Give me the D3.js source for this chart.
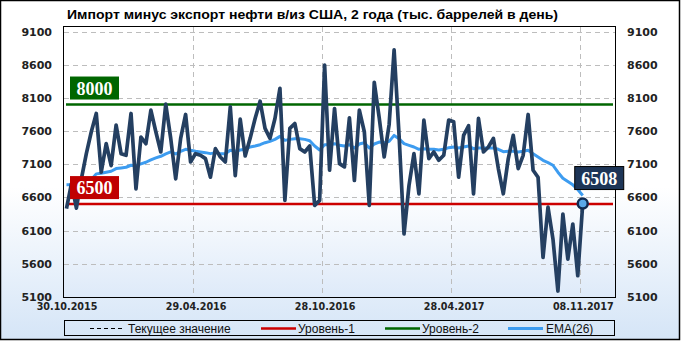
<!DOCTYPE html>
<html>
<head>
<meta charset="utf-8">
<script src="https://cdn.jsdelivr.net/npm/d3@7"></script>
<style>
  body { margin: 0; background: #fff; }
</style>
</head>
<body>
<svg width="682" height="341"></svg>
<script>
// weekly values, thousand barrels per day
const values = [
  6430, 6810, 6440, 6880, 7260, 7590, 7865, 6980, 7410, 7080,
  7690, 7260, 7235, 7865, 6730, 7510, 7410, 7915, 7590, 7285,
  8005, 7490, 6880, 7490, 7850, 7135, 7260, 7235, 7185, 6905,
  7335, 7210, 7135, 7965, 6930, 7780, 7225, 7490, 7790, 8050,
  7640, 7490, 7790, 8245, 6555, 7640, 7715, 7335, 7285, 7375,
  6480, 6555, 8595, 7010, 7940, 7110, 7060, 7800, 6855, 7915,
  7590, 6480, 8335, 7800, 7210, 7700, 8825, 7535, 6050, 6780,
  7260, 6655, 7765, 7185, 7285, 7160, 7235, 7765, 7740, 6905,
  7535, 7680, 6655, 7790, 7285, 7360, 7490, 7035, 6655, 7185,
  7535, 7035, 7235, 7850, 7010, 6905, 5695, 6455, 5975, 5190,
  6350, 5670, 6200, 5420, 6508
];
const ema = [
  6790, 6790, 6780, 6790, 6820, 6870, 6955, 6965, 6980, 6995,
  7035, 7045, 7055, 7085, 7080, 7105, 7130, 7165, 7195, 7220,
  7255, 7285, 7255, 7295, 7325, 7310, 7295, 7285, 7275, 7260,
  7275, 7260, 7260, 7310, 7295, 7315, 7325, 7360, 7375, 7395,
  7425, 7445, 7475, 7520, 7460, 7475, 7485, 7485, 7475, 7455,
  7375, 7315, 7395, 7395, 7410, 7385, 7375, 7395, 7345, 7405,
  7425, 7345, 7405, 7435, 7425, 7445, 7535, 7485, 7410, 7385,
  7360, 7325, 7335, 7325, 7325, 7315, 7325, 7350, 7360, 7345,
  7360, 7375, 7335, 7345, 7345, 7345, 7345, 7325, 7290, 7295,
  7295, 7285, 7295, 7310, 7260, 7210, 7160, 7125, 7085, 6980,
  6890, 6840, 6790, 6720, 6630
];
const level1 = 6500;
const level2 = 8000;
const yTicks = [5100, 5600, 6100, 6600, 7100, 7600, 8100, 8600, 9100];
const xTickIdx = [0, 26, 52, 78, 104];
const xTickLabels = ['30.10.2015', '29.04.2016', '28.10.2016', '28.04.2017', '08.11.2017'];
const title = 'Импорт  минус экспорт нефти  в/из США, 2 года (тыс. баррелей в день)';
const legendItems = ['Текущее значение', 'Уровень-1', 'Уровень-2', 'EMA(26)'];

const svg = d3.select('svg');
const margin = {top: 27, right: 67, bottom: 44, left: 64};
const width = +svg.attr('width');
const height = +svg.attr('height');
const innerWidth = width - margin.left - margin.right;
const innerHeight = height - margin.top - margin.bottom;

// gradients
const defs = svg.append('defs');
const grad = defs.append('linearGradient').attr('id', 'bg')
  .attr('x1', 0).attr('y1', 0).attr('x2', 0).attr('y2', 1);
grad.append('stop').attr('offset', '0.55').attr('stop-color', '#ffffff');
grad.append('stop').attr('offset', '1').attr('stop-color', '#d5e5f7');
const grad2 = defs.append('linearGradient').attr('id', 'plotbg')
  .attr('x1', 0).attr('y1', 0).attr('x2', 0).attr('y2', 1);
grad2.append('stop').attr('offset', '0.6').attr('stop-color', '#ffffff');
grad2.append('stop').attr('offset', '1').attr('stop-color', '#deeaf9');

svg.append('rect')
  .attr('x', 0.5).attr('y', 0.5).attr('width', 679).attr('height', 339)
  .attr('fill', 'url(#bg)').attr('stroke', '#000').attr('stroke-width', 1.5);

// title
svg.append('text')
  .attr('x', 67).attr('y', 19)
  .style('font-family', '"Liberation Sans", sans-serif')
  .style('font-weight', 'bold').style('font-size', '13px')
  .attr('textLength', 491).attr('lengthAdjust', 'spacingAndGlyphs')
  .text(title);

const g = svg.append('g')
  .attr('transform', `translate(${margin.left}, ${margin.top})`);

const xScale = d3.scaleLinear().domain([0, 111]).range([0, innerWidth]);
const yScale = d3.scaleLinear().domain([5100, 9168]).range([innerHeight, 0]);

g.append('rect')
  .attr('width', innerWidth).attr('height', innerHeight)
  .attr('fill', 'url(#plotbg)');

// grid
g.selectAll('.hgrid').data(yTicks.slice(1)).enter().append('line')
  .attr('x1', 0).attr('x2', innerWidth)
  .attr('y1', d => Math.round(yScale(d)) + 0.5).attr('y2', d => Math.round(yScale(d)) + 0.5)
  .attr('stroke', '#bdbdbd').attr('stroke-dasharray', '5,4');
g.selectAll('.vgrid').data(xTickIdx.slice(1)).enter().append('line')
  .attr('y1', 0).attr('y2', innerHeight)
  .attr('x1', d => Math.round(xScale(d)) + 0.5).attr('x2', d => Math.round(xScale(d)) + 0.5)
  .attr('stroke', '#bdbdbd').attr('stroke-dasharray', '5,4');

// axes
const fmt = d3.format('d');
const yLeft = g.append('g')
  .call(d3.axisLeft(yScale).tickValues(yTicks).tickFormat(fmt).tickSize(0).tickPadding(12));
const yRight = g.append('g').attr('transform', `translate(${innerWidth}, 0)`)
  .call(d3.axisRight(yScale).tickValues(yTicks).tickFormat(fmt).tickSize(0).tickPadding(12));
const xAxis = g.append('g').attr('transform', `translate(0, ${innerHeight})`)
  .call(d3.axisBottom(xScale).tickValues(xTickIdx).tickSize(0).tickPadding(6)
    .tickFormat((d, i) => xTickLabels[i]));
[yLeft, yRight, xAxis].forEach(a => {
  a.select('.domain').remove();
  a.selectAll('text').attr('fill', '#222')
    .style('font-weight', 'bold')
    .style('font-family', '"DejaVu Sans", sans-serif');
});
yLeft.selectAll('text').style('font-size', '11px');
yRight.selectAll('text').style('font-size', '11px');
xAxis.selectAll('text').style('font-size', '9.6px').attr('dx', 2.5);

// level lines
const levels = [
  {v: level2, color: '#006600', fill: '#006600'},
  {v: level1, color: '#cc0000', fill: '#c00000'}
];
levels.forEach(l => {
  g.append('line')
    .attr('x1', 2).attr('x2', innerWidth - 2)
    .attr('y1', yScale(l.v)).attr('y2', yScale(l.v))
    .attr('stroke', l.color).attr('stroke-width', 2.5);
});

// EMA
const line = d3.line().x((d, i) => xScale(i + 0.5)).y(d => yScale(d));
g.append('path').datum(ema)
  .attr('fill', 'none').attr('stroke', '#3d9cf0').attr('stroke-width', 3)
  .attr('stroke-linejoin', 'round').attr('d', line);

// values
g.append('path').datum(values)
  .attr('fill', 'none').attr('stroke', '#243f61').attr('stroke-width', 3.7)
  .attr('stroke-linejoin', 'round').attr('d', line);

// frame
g.append('rect')
  .attr('x', -0.5).attr('y', -0.5).attr('width', innerWidth + 1).attr('height', innerHeight + 1)
  .attr('fill', 'none').attr('stroke', '#000');

// level labels
const serif = '"Liberation Serif", "DejaVu Serif", serif';
levels.forEach(l => {
  const y = yScale(l.v);
  g.append('rect')
    .attr('x', 6).attr('y', y - 28).attr('width', 49).attr('height', 23)
    .attr('fill', l.fill);
  g.append('text')
    .attr('x', 30.5).attr('y', y - 10)
    .attr('text-anchor', 'middle')
    .style('font-family', serif).style('font-weight', 'bold')
    .style('font-size', '18px').attr('fill', '#fff')
    .text(l.v);
});

// last value marker
const last = values.length - 1;
const lx = xScale(last + 0.5), ly = yScale(values[last]);
g.append('circle').attr('cx', lx).attr('cy', ly).attr('r', 5)
  .attr('fill', '#5aa8e8').attr('stroke', '#102a50').attr('stroke-width', 2.5);
g.append('rect')
  .attr('x', lx - 8).attr('y', ly - 37).attr('width', 49).attr('height', 23)
  .attr('fill', '#1d3557').attr('stroke', '#000').attr('stroke-width', 1);
g.append('text')
  .attr('x', lx + 16.5).attr('y', ly - 19)
  .attr('text-anchor', 'middle')
  .style('font-family', serif).style('font-weight', 'bold')
  .style('font-size', '18px').attr('fill', '#fff')
  .text(values[last]);

// legend
const lg = svg.append('g');
lg.append('rect')
  .attr('x', 64.5).attr('y', 320.5).attr('width', 550).attr('height', 15)
  .attr('fill', 'none').attr('stroke', '#000');
const legendStyles = [
  {x: 90, color: '#000', dash: '4,3', w: 1, gap: 38},
  {x: 261, color: '#cc0000', dash: null, w: 2.5, gap: 37},
  {x: 385, color: '#006600', dash: null, w: 2.5, gap: 37},
  {x: 508, color: '#3d9cf0', dash: null, w: 3, gap: 38}
];
legendItems.forEach((name, i) => {
  const s = legendStyles[i];
  lg.append('line')
    .attr('x1', s.x).attr('x2', s.x + 35)
    .attr('y1', 328.5).attr('y2', 328.5)
    .attr('stroke', s.color).attr('stroke-width', s.w)
    .attr('stroke-dasharray', s.dash);
  lg.append('text')
    .attr('x', s.x + s.gap).attr('y', 332.5)
    .style('font-family', '"Liberation Sans", sans-serif')
    .style('font-size', '12px').attr('fill', '#111')
    .text(name);
});
</script>
</body>
</html>
